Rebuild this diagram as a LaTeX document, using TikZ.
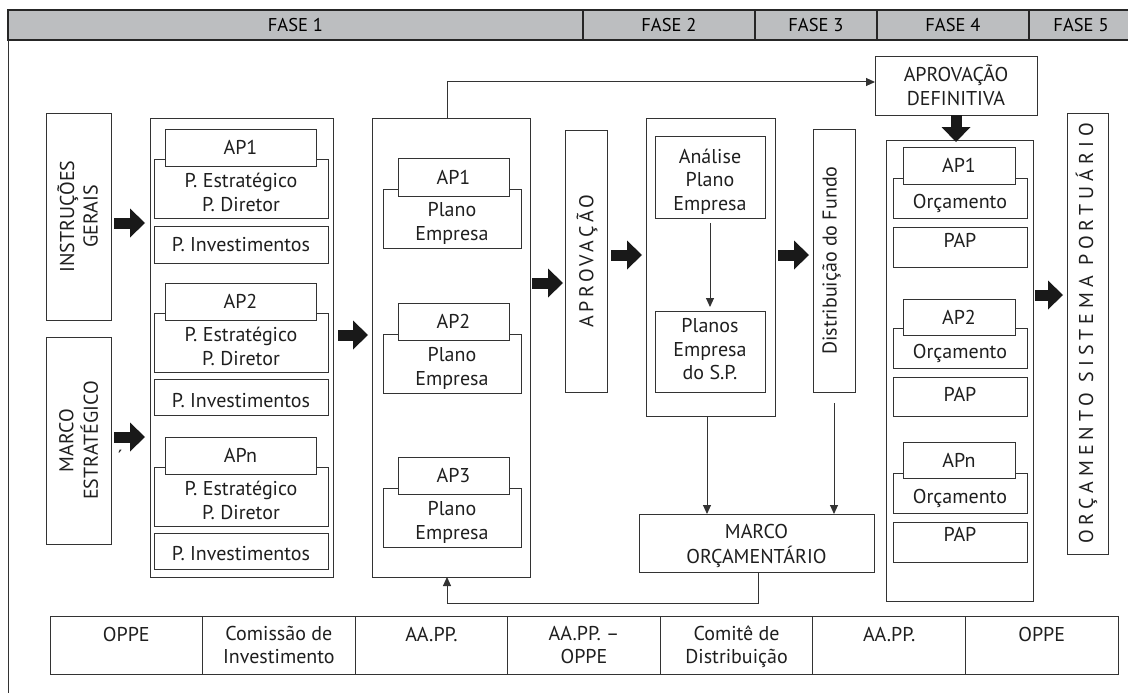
\documentclass[tikz,border=0pt]{standalone}
\usepackage{fontspec}
\setmainfont{PT Sans}
\newfontfamily\trackA[LetterSpace=18]{PT Sans}
\newfontfamily\trackB[LetterSpace=25]{PT Sans}
\usetikzlibrary{arrows.meta}
\definecolor{hdgray}{HTML}{BCBEC0}
% centred block of lines; optional argument moves it up (+) or down (-)
\newcommand\ml[2][0pt]{\raisebox{\dimexpr#1-2.4pt\relax}[\height][\depth]{\begin{tabular}{@{}c@{}}#2\end{tabular}}}
% box given by its corners: [style]{name}{x1}{y1}{x2}{y2}{text}
\newcommand\mybox[7][]{\node[bx,#1,minimum width={#5-#3},minimum height={#6-#4}] (#2) at ({(#3+#5)/2},{(#4+#6)/2}) {#7};}
\begin{document}
\begin{tikzpicture}[x=1pt,y=-1pt,
  bx/.style={draw=black!80, line width=1pt, fill=white, inner sep=0pt, outer sep=0pt,
             font=\fontsize{20}{23.5}\selectfont, text=black!88},
  hd/.style={fill=hdgray, draw=black!85, line width=1.5pt, font=\fontsize{18.5}{20}\selectfont, text=black},
  ln/.style={draw=black!80, line width=1pt},
  tip/.style={ln, -{Triangle[width=8pt,length=9pt]}},
  blk/.style={draw=black!90, line width=11pt, -{Triangle[width=29pt,length=15pt,line width=0pt]}}]
\useasboundingbox (0,0) rectangle (1128,693);

% phase header
\mybox[hd]{f1}{8}{10}{583}{40}{\ml{FASE 1}}
\mybox[hd]{f2}{583}{10}{755}{40}{\ml{FASE 2}}
\mybox[hd]{f3}{755}{10}{877}{40}{\ml{FASE 3}}
\mybox[hd]{f4}{877}{10}{1029}{40}{\ml{FASE 4}}
\mybox[hd]{f5}{1029}{10}{1133}{40}{\ml{FASE 5}}
\coordinate (fb) at (8,693);
\draw[ln] (f1.south west) -- (fb);

% inputs
\mybox{ig}{46}{113}{111}{320}{\rotatebox{90}{\ml{INSTRUÇÕES\\GERAIS}}}
\mybox{me}{46}{337}{111}{544}{\rotatebox{90}{\ml{MARCO\\ESTRATÉGICO}}}
\node[font=\fontsize{20}{23.5}\selectfont, text=black!88, inner sep=0pt] (acc) at (120,457) {\char"00B4};

% column 1: strategic and investment plans
\mybox{c1}{150}{118}{333}{577}{}
\mybox{pe1}{154}{159}{328}{218}{\ml[-4pt]{P. Estratégico\\P. Diretor}}
\mybox{a11}{165}{129}{316}{166}{\ml{AP1}}
\mybox{in1}{154}{226}{328}{263}{\ml{P. Investimentos}}
\mybox{pe2}{154}{313}{328}{372}{\ml[-4pt]{P. Estratégico\\P. Diretor}}
\mybox{a12}{165}{283}{316}{320}{\ml{AP2}}
\mybox{in2}{154}{379}{328}{415}{\ml[-3pt]{P. Investimentos}}
\mybox{pe3}{154}{467}{328}{526}{\ml[-4pt]{P. Estratégico\\P. Diretor}}
\mybox{a13}{165}{437}{316}{474}{\ml{APn}}
\mybox{in3}{154}{533}{328}{569}{\ml[-2.5pt]{P. Investimentos}}

% column 2: business plans
\mybox{c2}{372}{118}{530}{577}{}
\mybox{pl1}{383}{189}{521}{248}{\ml[-2.8pt]{Plano\\Empresa}}
\mybox{a21}{398}{158}{509}{196}{\ml{AP1}}
\mybox{pl2}{383}{334}{521}{393}{\ml[-2.8pt]{Plano\\Empresa}}
\mybox{a22}{398}{303}{509}{340}{\ml{AP2}}
\mybox{pl3}{383}{488}{521}{547}{\ml[-2.8pt]{Plano\\Empresa}}
\mybox{a23}{398}{457}{509}{494}{\ml{AP3}}

\mybox{apr}{565}{130}{607}{392}{\rotatebox{90}{\trackA\ml{APROVAÇÃO}}}

% column 3: analysis
\mybox{c3}{646}{118}{775}{416}{}
\mybox{an}{655}{136}{765}{218}{\ml[-2.5pt]{Análise\\Plano\\Empresa}}
\mybox{pl}{655}{311}{765}{392}{\ml[2.5pt]{Planos\\Empresa\\do S.P.}}
\mybox{dist}{813}{129}{855}{392}{\rotatebox{90}{\ml[4.5pt]{Distribuição do Fundo}}}
\mybox{mo}{639}{514}{874}{572}{\ml[-1pt]{MARCO\\ORÇAMENTÁRIO}}
\mybox{ad}{875}{57}{1037}{115}{\ml{APROVAÇÃO\\DEFINITIVA}}

% column 4: budgets
\mybox{c4}{886}{140}{1033}{601}{}
\mybox{o1}{893}{178}{1027}{218}{\ml[-3pt]{Orçamento}}
\mybox{a41}{903}{147}{1015}{184}{\ml{AP1}}
\mybox{pap1}{893}{227}{1027}{267}{\ml[7pt]{PAP}}
\mybox{o2}{893}{328}{1027}{368}{\ml[-3pt]{Orçamento}}
\mybox{a42}{903}{299}{1015}{335}{\ml{AP2}}
\mybox{pap2}{893}{377}{1027}{416}{\ml[2.5pt]{PAP}}
\mybox{o3}{893}{473}{1027}{513}{\ml[-3pt]{Orçamento}}
\mybox{a43}{903}{442}{1015}{478}{\ml{APn}}
\mybox{pap3}{893}{522}{1027}{562}{\ml[7.5pt]{PAP}}

\mybox{osp}{1067}{113}{1108}{554}{\rotatebox{90}{\trackB\ml[2pt]{ORÇAMENTO SISTEMA PORTUÁRIO}}}

% responsible bodies
\mybox{r1}{50}{616}{202.57}{674}{\ml[11pt]{OPPE}}
\mybox{r2}{202.57}{616}{355.14}{674}{\ml{Comissão de\\Investimento}}
\mybox{r3}{355.14}{616}{507.71}{674}{\ml[11pt]{AA.PP.}}
\mybox{r4}{507.71}{616}{660.29}{674}{\ml{AA.PP. –\\OPPE}}
\mybox{r5}{660.29}{616}{812.86}{674}{\ml{Comitê de\\Distribuição}}
\mybox{r6}{812.86}{616}{965.43}{674}{\ml[11pt]{AA.PP.}}
\mybox{r7}{965.43}{616}{1118}{674}{\ml[11pt]{OPPE}}

% block arrows
\coordinate (b1) at ([yshift=-6.5pt]ig.east);
\coordinate (b2) at ([yshift=3.5pt]me.east);
\coordinate (b3) at ([yshift=12.5pt]c1.east);
\coordinate (b4) at ([yshift=64.5pt]c2.east);
\coordinate (b5) at ([yshift=6pt]apr.east);
\coordinate (b6) at ([yshift=12pt]c3.east);
\coordinate (b8) at ([yshift=75.5pt]c4.east);
\draw[blk, shorten <=3pt, shorten >=5pt] (b1) -- (b1 -| c1.west);
\draw[blk, shorten <=3pt, shorten >=5pt] (b2) -- (b2 -| c1.west);
\draw[blk, shorten <=5pt, shorten >=4pt] (b3) -- (b3 -| c2.west);
\draw[blk, shorten <=2pt, shorten >=2pt] (b4) -- (b4 -| apr.west);
\draw[blk, shorten <=4pt, shorten >=4pt] (b5) -- (b5 -| c3.west);
\draw[blk, shorten <=3pt, shorten >=4pt] (b6) -- (b6 -| dist.west);
\draw[blk, shorten >=-2pt] (ad.south) -- (ad.south |- c4.north);
\draw[blk, shorten <=2pt, shorten >=4pt] (b8) -- (b8 -| osp.west);

% thin connectors
\coordinate (t1) at ([xshift=-4pt]c2.north);
\coordinate (t2) at ([yshift=4pt]ad.west);
\draw[tip] (t1) |- (t2);
\draw[tip, shorten <=5pt, shorten >=4pt] (an) -- (pl);
\coordinate (t3) at ([xshift=-3.5pt]c3.south);
\draw[tip] (t3) -- (t3 |- mo.north);
\draw[tip, shorten <=11pt] (dist.south) -- (dist.south |- mo.north);
\coordinate (t4) at ([xshift=1.5pt]mo.south);
\coordinate (t5) at ([yshift=-31pt]mo.south);
\draw[tip] (t4) -- (t4 |- t5) -- (t1 |- t5) -- (t1 |- c2.south);
\end{tikzpicture}
\end{document}
